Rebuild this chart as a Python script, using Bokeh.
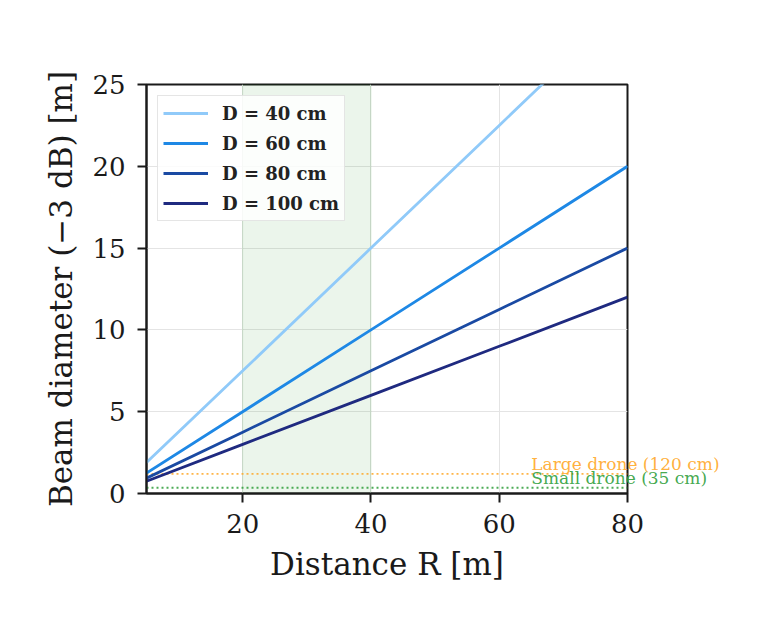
from bokeh.plotting import figure
from bokeh.models import BoxAnnotation, Label, Legend, LegendItem, FixedTicker, Range1d
from bokeh.embed import file_html
from bokeh.resources import INLINE

# Data
distance = [5, 20, 40, 60, 80]
beam_d40 = [1.9, 7.5, 15.0, 22.5, 30.0]
beam_d60 = [1.25, 5.0, 10.0, 15.0, 20.0]
beam_d80 = [0.94, 3.75, 7.5, 11.25, 15.0]
beam_d100 = [0.75, 3.0, 6.0, 9.0, 12.0]
series_labels = ["D = 40 cm", "D = 60 cm", "D = 80 cm", "D = 100 cm"]
series_colors = ["#90caf9", "#1e88e5", "#1a4aa3", "#1f2a80"]
band_range = [20, 40]
large_drone = 1.2
small_drone = 0.35
drone_text_x = 65
x_ticks = [20, 40, 60, 80]
y_ticks = [0, 5, 10, 15, 20, 25]
x_min, x_max = 5, 80
y_min, y_max = 0, 25

FONT = "DejaVu Serif"
INK = "#1a1a1a"

p = figure(width=745, height=600, output_backend="svg", toolbar_location=None,
           x_range=Range1d(x_min, x_max), y_range=Range1d(y_min, y_max),
           min_border_left=146, min_border_right=118, min_border_top=84, min_border_bottom=107)

p.background_fill_color = "white"
p.border_fill_color = "white"
p.outline_line_color = INK
p.outline_line_width = 2

# shaded band
p.add_layout(BoxAnnotation(left=band_range[0], right=band_range[1], fill_color="green",
                           fill_alpha=0.08, line_color="green", line_alpha=0.12, line_width=1,
                           level="underlay"))

# drone reference lines
p.line([x_min, x_max], [large_drone, large_drone], line_color="#ffa726",
       line_alpha=0.85, line_width=1.8, line_dash="2 3")
p.line([x_min, x_max], [small_drone, small_drone], line_color="#2e9e3a",
       line_alpha=0.85, line_width=1.8, line_dash="2 3")

items = []
for ys, lab, col in zip([beam_d40, beam_d60, beam_d80, beam_d100], series_labels, series_colors):
    r = p.line(distance, ys, line_color=col, line_width=2.8)
    items.append(LegendItem(label=lab, renderers=[r]))

legend = Legend(items=items, location="top_left", margin=11, padding=5, spacing=6,
                glyph_width=45, glyph_height=24, label_height=24, label_standoff=14,
                label_text_font=FONT, label_text_font_size="18px", label_text_font_style="bold",
                label_text_color="#222222",
                border_line_color="#cccccc", border_line_width=1,
                background_fill_color="white", background_fill_alpha=0.85)
p.add_layout(legend, "center")

# drone labels run past the right spine: place them in a side panel
# (side-panel annotations are not clipped to the frame; positions still use data units)
p.add_layout(Label(x=drone_text_x, y=large_drone, text="Large drone (120 cm)", text_font=FONT,
                   text_font_size="17px", text_color="#ffa726", text_alpha=0.9,
                   text_baseline="bottom", text_align="left"), "above")
p.add_layout(Label(x=drone_text_x, y=small_drone, text="Small drone (35 cm)", text_font=FONT,
                   text_font_size="17px", text_color="#2e9e3a", text_alpha=0.9,
                   text_baseline="bottom", text_align="left"), "above")

# axes
p.xaxis.ticker = FixedTicker(ticks=x_ticks)
p.yaxis.ticker = FixedTicker(ticks=y_ticks)
p.xaxis.axis_label = "Distance R [m]"
p.yaxis.axis_label = "Beam diameter (\u22123 dB) [m]"
for ax in (p.xaxis[0], p.yaxis[0]):
    ax.axis_label_text_font = FONT
    ax.axis_label_text_font_size = "31px"
    ax.axis_label_text_font_style = "normal"
    ax.axis_label_text_color = INK
    ax.major_label_text_font = FONT
    ax.major_label_text_font_size = "26px"
    ax.major_label_text_color = INK
    ax.axis_line_color = INK
    ax.axis_line_width = 2
    ax.major_tick_line_color = INK
    ax.major_tick_line_width = 2
    ax.major_tick_out = 9
    ax.major_tick_in = 0
    ax.minor_tick_line_color = None
p.xaxis.major_label_standoff = 11
p.yaxis.major_label_standoff = 12
p.xaxis.axis_label_standoff = 10
p.yaxis.axis_label_standoff = 10

p.xgrid.grid_line_color = "#e4e4e4"
p.ygrid.grid_line_color = "#e4e4e4"

open("out.html", "w").write(file_html(p, INLINE))
